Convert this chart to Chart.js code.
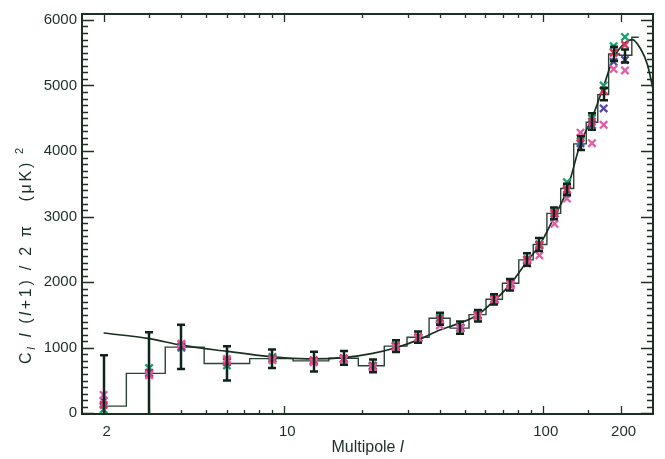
<!DOCTYPE html>
<html><head><meta charset="utf-8">
<script src="https://cdn.jsdelivr.net/npm/chart.js@4/dist/chart.umd.min.js"></script>
<style>html,body{margin:0;padding:0;background:#fff}#wrap{width:665px;height:459px}</style>
</head><body><div id="wrap"><canvas id="c" width="665" height="459"></canvas></div>
<script>
// ---- data ----
const ell      = [2, 3, 4, 6, 9, 13, 17, 22, 27, 33, 40, 48, 56, 65, 75, 87, 97, 111, 124, 140, 155, 172, 188, 208];
const binValue = [110, 610, 1010, 760, 835, 800, 840, 725, 1025, 1160, 1450, 1300, 1505, 1740, 1985, 2340, 2575, 3050, 3430, 4110, 4440, 4860, 5480, 5460];
const errHigh  = [885, 1235, 1350, 1025, 975, 940, 950, 820, 1115, 1250, 1535, 1400, 1575, 1815, 2050, 2440, 2675, 3140, 3500, 4225, 4575, 4960, 5590, 5550];
const errLow   = [-700, -20, 675, 500, 690, 640, 740, 625, 935, 1075, 1350, 1215, 1400, 1660, 1875, 2250, 2475, 2960, 3325, 4015, 4325, 4775, 5375, 5350];

const stepEll  = [2, 3, 4, 6, 9, 13, 17, 22, 27, 33, 40, 48, 56, 65, 75, 87, 97, 111, 124, 140, 155, 172, 188, 208, 235];
const stepVal  = [110, 610, 1010, 760, 835, 800, 840, 725, 1025, 1160, 1450, 1300, 1505, 1740, 1985, 2340, 2575, 3050, 3430, 4110, 4440, 4860, 5480, 5460, 5735];

const greenVal = [60, 690, 1000, 730, 860, 790, 830, 730, 1040, 1160, 1460, 1300, 1510, 1750, 1990, 2350, 2580, 3070, 3525, 4150, 4500, 5000, 5600, 5740];
const blueVal  = [190, 620, 1020, 780, 830, 800, 830, 715, 1020, 1150, 1420, 1310, 1490, 1730, 1960, 2330, 2560, 3040, 3400, 4120, 4400, 4650, 5360, 5390];
const redVal   = [130, 600, 1050, 800, 840, 810, 840, 720, 1020, 1160, 1440, 1300, 1500, 1740, 1980, 2340, 2570, 3050, 3420, 4200, 4450, 4920, 5500, 5620];
const pinkVal  = [280, 580, 1060, 830, 810, 780, 820, 700, 1000, 1140, 1340, 1290, 1470, 1720, 1950, 2280, 2410, 2890, 3275, 4280, 4120, 4400, 5250, 5230];

const theoryEll = [2, 3, 4, 6, 9, 10, 13, 17, 22, 27, 33, 40, 48, 56, 65, 75, 87, 97, 111, 124, 140, 155, 172, 188, 208, 222, 239, 254, 267];
const theoryVal = [1225, 1140, 1040, 945, 860, 845, 830, 850, 915, 1000, 1120, 1270, 1380, 1500, 1720, 1970, 2320, 2560, 3000, 3400, 4120, 4500, 4990, 5420, 5650, 5700, 5560, 5320, 4950];

const xTickLabels = [2, 10, 100, 200];
const xMinorTicks = [3, 4, 5, 6, 7, 8, 9, 20, 30, 40, 50, 60, 70, 80, 90, 150];
const yTickLabels = [0, 1000, 2000, 3000, 4000, 5000, 6000];
const yMinorStep = 100;
const xRange = [1.65, 267];
const yRange = [-10, 6090];

// ---- styling ----
const INK = '#1b2f25';
const FONT = '"Liberation Sans", Arial, Helvetica, sans-serif';
const pts = (xs, ys) => xs.map((x, i) => ({x: x, y: ys[i]}));
const crossSet = (vals, color) => ({
  data: pts(ell, vals), pointStyle: 'crossRot', pointRadius: 5.2, pointBorderWidth: 2.3,
  borderColor: color, backgroundColor: color, showLine: false
});

const decor = {
  id: 'decor',
  afterDatasetsDraw(chart) {
    const {ctx, chartArea: a, scales: {x, y}} = chart;
    ctx.save();
    ctx.beginPath(); ctx.rect(a.left, a.top, a.right - a.left, a.bottom - a.top); ctx.clip();
    ctx.strokeStyle = '#0f2419'; ctx.lineWidth = 2.5; ctx.lineCap = 'butt';
    ell.forEach((l, i) => {
      const px = Math.round(x.getPixelForValue(l));
      const yt = y.getPixelForValue(errHigh[i]);
      const yb = y.getPixelForValue(errLow[i]);
      ctx.beginPath();
      ctx.moveTo(px, yt); ctx.lineTo(px, yb);
      ctx.moveTo(px - 4, yt); ctx.lineTo(px + 4, yt);
      ctx.moveTo(px - 4, yb); ctx.lineTo(px + 4, yb);
      ctx.stroke();
    });
    ctx.restore();
  },
  afterDraw(chart) {
    const {ctx, chartArea: a, scales: {x, y}} = chart;
    ctx.save();
    ctx.strokeStyle = INK; ctx.lineWidth = 1.3;
    ctx.beginPath();
    const xt = (v, len) => {
      const p = Math.round(x.getPixelForValue(v)) + 0.5;
      ctx.moveTo(p, a.bottom); ctx.lineTo(p, a.bottom - len);
      ctx.moveTo(p, a.top); ctx.lineTo(p, a.top + len);
    };
    xTickLabels.forEach(v => xt(v, 8));
    xMinorTicks.forEach(v => xt(v, 4));
    for (let v = 0; v <= yRange[1]; v += yMinorStep) {
      const len = (v % 1000 === 0) ? 12 : 6;
      const p = Math.round(y.getPixelForValue(v)) + 0.5;
      ctx.moveTo(a.left, p); ctx.lineTo(a.left + len, p);
      ctx.moveTo(a.right, p); ctx.lineTo(a.right - len, p);
    }
    ctx.stroke();
    ctx.lineWidth = 2;
    ctx.strokeRect(a.left, a.top, a.right - a.left, a.bottom - a.top);

    // x title
    ctx.fillStyle = INK;
    ctx.textBaseline = 'alphabetic';
    const f1 = '16px ' + FONT, f2 = 'italic 16px ' + FONT;
    ctx.font = f1; const w1 = ctx.measureText('Multipole ').width;
    ctx.font = f2; const w2 = ctx.measureText('l').width;
    const cx = (a.left + a.right) / 2;
    let sx = cx - (w1 + w2) / 2;
    ctx.font = f1; ctx.fillText('Multipole ', sx, 452);
    ctx.font = f2; ctx.fillText('l', sx + w1, 452);

    // y title (rotated), drawn char by char with spacing
    const segs = [
      {t: 'C', f: '16px ' + FONT, dy: 0},
      {t: 'l', f: 'italic 11px ' + FONT, dy: 4},
      {t: ' ', f: '16px ' + FONT, dy: 0},
      {t: 'l', f: 'italic 16px ' + FONT, dy: 0},
      {t: ' (', f: '16px ' + FONT, dy: 0},
      {t: 'l', f: 'italic 16px ' + FONT, dy: 0},
      {t: '+1) / 2 π   (μK)', f: '16px ' + FONT, dy: 0},
      {t: ' 2', f: '11px ' + FONT, dy: -8}
    ];
    const chars = [];
    segs.forEach(s => { for (const ch of s.t) chars.push({ch: ch, f: s.f, dy: s.dy}); });
    let natural = 0;
    chars.forEach(c => { ctx.font = c.f; c.w = ctx.measureText(c.ch).width; natural += c.w; });
    const startY = 364, endY = 148;
    const extra = ((startY - endY) - natural) / (chars.length - 1);
    ctx.translate(31, startY);
    ctx.rotate(-Math.PI / 2);
    let pos = 0;
    chars.forEach(c => { ctx.font = c.f; ctx.fillText(c.ch, pos, c.dy); pos += c.w + extra; });
    ctx.restore();
  }
};

new Chart(document.getElementById('c'), {
  type: 'scatter',
  data: {
    datasets: [
      crossSet(pinkVal, '#e45aa6'),
      crossSet(redVal, '#ea2f5e'),
      crossSet(blueVal, '#5848a6'),
      crossSet(greenVal, '#17a070'),
      {data: pts(theoryEll, theoryVal), showLine: true, pointRadius: 0, borderColor: '#17301f',
       borderWidth: 1.7, cubicInterpolationMode: 'monotone'},
      {data: pts(stepEll, stepVal), showLine: true, pointRadius: 0, borderColor: '#2b4236',
       borderWidth: 1.4, stepped: 'middle'}
    ]
  },
  options: {
    responsive: false, animation: false, devicePixelRatio: 1,
    layout: {padding: {left: 0, right: 12, top: 7, bottom: 0}},
    plugins: {legend: {display: false}, tooltip: {enabled: false}},
    scales: {
      x: {
        type: 'logarithmic', min: xRange[0], max: xRange[1],
        afterFit(s) { s.height = 45; },
        afterBuildTicks(s) { s.ticks = xTickLabels.map(v => ({value: v})); },
        ticks: {callback: v => String(v), font: {family: FONT, size: 15}, color: INK, padding: 9,
                maxRotation: 0, autoSkip: false, labelOffset: 3},
        grid: {display: false, drawTicks: false}, border: {display: false}
      },
      y: {
        type: 'linear', min: yRange[0], max: yRange[1],
        afterFit(s) { s.width = 82; },
        afterBuildTicks(s) { s.ticks = yTickLabels.map(v => ({value: v})); },
        ticks: {callback: v => String(v), font: {family: FONT, size: 15}, color: INK, padding: 5},
        grid: {display: false, drawTicks: false}, border: {display: false}
      }
    }
  },
  plugins: [decor]
});
</script></body></html>
